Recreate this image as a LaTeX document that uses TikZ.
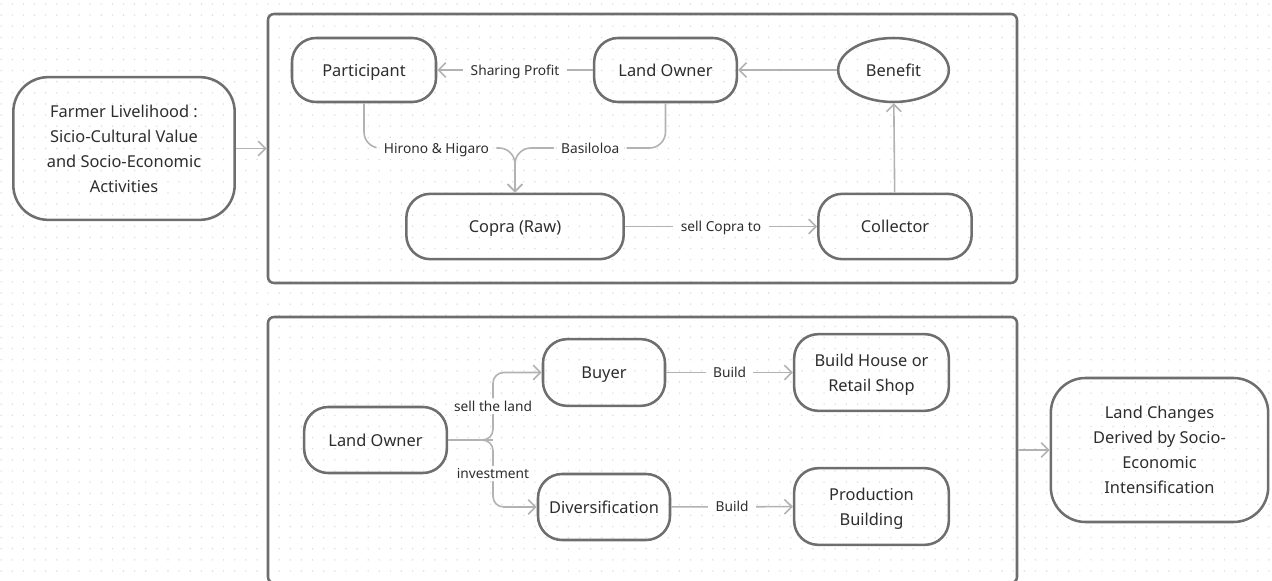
\documentclass[tikz,border=0pt]{standalone}
\usepackage{fontspec}
\setmainfont{Noto Sans}
\usetikzlibrary{arrows.meta,shapes.geometric}

\definecolor{ink}{RGB}{45,45,45}
\definecolor{edgegray}{RGB}{110,110,110}
\definecolor{conngray}{RGB}{178,178,178}
\definecolor{dotgray}{RGB}{218,218,218}

\tikzset{every picture/.style={line width=0.75pt}}
\tikzset{
  box/.style={draw=edgegray, line width=1.9pt, rounded corners=18pt, inner sep=0pt,
    text=ink, align=center, text depth=0pt, font=\fontsize{12.3}{18.75}\selectfont},
  bigbox/.style={box, rounded corners=26pt},
  oval/.style={box, ellipse, rounded corners=0pt},
  frame/.style={draw=edgegray, line width=1.9pt, rounded corners=4.5pt, inner sep=0pt},
  conn/.style={draw=conngray, line width=1.2pt, -{Straight Barb[length=5.5pt,width=11pt]}},
  lbl/.style={fill=white, inner xsep=5.5pt, inner ysep=2pt, text=ink, text depth=0pt,
    font=\fontsize{10.3}{12}\selectfont},
}

\begin{document}
\begin{tikzpicture}[x=0.75pt,y=0.75pt,yscale=-1,xscale=1]
	\useasboundingbox (0,0) rectangle (1272,581);
	\clip (0,0) rectangle (1272,581);

	%Dot grid
	\foreach \i in {0,...,114}
	  \foreach \j in {0,...,52}
	    \fill[dotgray] (1.2+11.12*\i,3.9+11.12*\j) circle (0.8);

	%Frames
	\node[frame, minimum width=561.75pt, minimum height=201.75pt] (top) at (642.5,148.5) {};
	\node[frame, minimum width=561.75pt, minimum height=199.5pt] (bot) at (642.5,450) {};

	%Outer boxes
	\node[bigbox, minimum width=166pt, minimum height=107pt] (farmer) at (124,148.5)
	  {Farmer Livelihood :\\Sicio-Cultural Value\\and Socio-Economic\\Activities};
	\node[bigbox, minimum width=163pt, minimum height=108pt] (change) at (1159.5,450)
	  {Land Changes\\Derived by Socio-\\Economic\\Intensification};

	%Upper frame
	\node[box, minimum width=108pt, minimum height=48pt] (part) at (364,70) {Participant};
	\node[box, minimum width=107pt, minimum height=48pt] (owner) at (665.5,70) {Land Owner};
	\node[oval, minimum width=83pt, minimum height=48pt] (benefit) at (893.5,70) {Benefit};
	\node[box, minimum width=163pt, minimum height=49pt] (copra) at (515,226.5) {Copra (Raw)};
	\node[box, minimum width=115pt, minimum height=49pt] (collect) at (895,226.5) {Collector};
	\coordinate (merge) at (515,148);

	%Lower frame
	\node[box, minimum width=107pt, minimum height=49.5pt] (owner2) at (375.5,440) {Land Owner};
	\node[box, minimum width=91.5pt, minimum height=50pt] (buyer) at (604,372.5) {Buyer};
	\node[box, minimum width=99pt, minimum height=49.5pt] (divers) at (604,507) {Diversification};
	\node[box, minimum width=116pt, minimum height=57.5pt] (house) at (871.5,372.5) {Build House or\\Retail Shop};
	\node[box, minimum width=116pt, minimum height=57.5pt] (prod) at (871.5,506.5) {Production\\Building};
	\coordinate (fork) at (493,440);

	%Connectors
	\draw[conn] (farmer.east) -- (farmer.east -| top.west);
	\draw[conn] (change.west -| bot.east) -- (change.west);
	\draw[conn] (owner) -- node[lbl]{Sharing Profit} (part);
	\draw[conn] (benefit) -- (owner);
	\draw[conn] (collect) -- (benefit);
	\draw[conn] (copra) -- node[lbl]{sell Copra to} (collect);
	\draw[conn, rounded corners=12pt] (part.south) |- node[lbl, pos=0.74]{Hirono \& Higaro} (merge) -- (copra.north);
	\draw[conn, rounded corners=12pt] (owner.south) |- node[lbl, pos=0.75]{Basiloloa} (merge) -- (copra.north);
	\draw[conn, -, rounded corners=8pt] (owner2.east) -- (fork);
	\draw[conn, rounded corners=8pt] ([xshift=-10]fork) -- (fork) |- node[lbl, pos=0.25]{sell the land} (buyer.west);
	\draw[conn, rounded corners=8pt] ([xshift=-10]fork) -- (fork) |- node[lbl, pos=0.25]{investment} (divers.west);
	\draw[conn] (buyer) -- node[lbl]{Build} (house);
	\draw[conn] (divers) -- node[lbl]{Build} (prod);

\end{tikzpicture}
\end{document}
